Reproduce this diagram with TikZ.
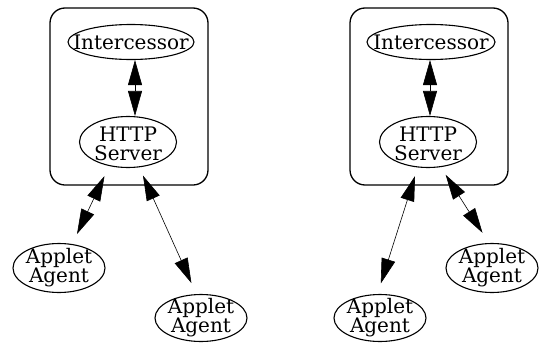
\documentclass[tikz,border=0pt]{standalone}
\usepackage{fontspec}
\setmainfont{DejaVu Serif}
\usetikzlibrary{arrows.meta,shapes.geometric}
\begin{document}
\begin{tikzpicture}[x=1pt,y=-1pt,
  cluster/.style={draw, line width=1.3pt, rounded corners=15pt, inner sep=0pt,
    minimum width=158pt, minimum height=177pt},
  oval/.style={draw, ellipse, line width=1.1pt, inner sep=0pt},
  lbl/.style={align=center, inner sep=0pt, font=\fontsize{20}{19}\selectfont},
  link/.style={line width=0.6pt, {Triangle[length=25pt,width=14pt]}-{Triangle[length=25pt,width=14pt]}}]
  \useasboundingbox (0,0) rectangle (540,343);

  % left group
  \node[cluster] (boxA) at (129,96.5) {};
  \node[oval, minimum width=126pt, minimum height=35pt] (intA) at (131,42) {};
  \node[lbl] (intAt) at (intA) {Intercessor};
  \node[oval, minimum width=97pt, minimum height=51pt] (httpA) at (128,142) {};
  \node[lbl] (httpAt) at ([yshift=-2pt]httpA.center) {HTTP\\Server};
  \node[oval, minimum width=92pt, minimum height=49pt] (agA1) at (59,268) {};
  \node[lbl] (agA1t) at (agA1) {Applet\\Agent};
  \node[oval, minimum width=92pt, minimum height=47pt] (agA2) at (201,318) {};
  \node[lbl] (agA2t) at (agA2) {Applet\\Agent};

  \draw[link] ([xshift=4pt]intA.south) -- ([xshift=7pt]httpA.north);
  \draw[link, shorten <=11pt, shorten >=11pt] (httpA.232.9) -- (agA1.61.4);
  \draw[link, shorten <=9pt, shorten >=12pt] (httpA.294.4) -- (agA2.101);

  % right group
  \node[cluster] (boxB) at (429,96.5) {};
  \node[oval, minimum width=128pt, minimum height=35pt] (intB) at (431,42) {};
  \node[lbl] (intBt) at (intB) {Intercessor};
  \node[oval, minimum width=97pt, minimum height=51pt] (httpB) at (428,142) {};
  \node[lbl] (httpBt) at ([yshift=-2pt]httpB.center) {HTTP\\Server};
  \node[oval, minimum width=92pt, minimum height=49pt] (agB1) at (492,268) {};
  \node[lbl] (agB1t) at (agB1) {Applet\\Agent};
  \node[oval, minimum width=92pt, minimum height=47pt] (agB2) at (380,318) {};
  \node[lbl] (agB2t) at (agB2) {Applet\\Agent};

  \draw[link] ([xshift=-1pt]intB.south) -- ([xshift=2pt]httpB.north);
  \draw[link, shorten <=9pt, shorten >=11pt] (httpB.248.5) -- (agB2.96.5);
  \draw[link, shorten <=9pt, shorten >=12pt] (httpB.297.3) -- (agB1.97.9);
\end{tikzpicture}
\end{document}
